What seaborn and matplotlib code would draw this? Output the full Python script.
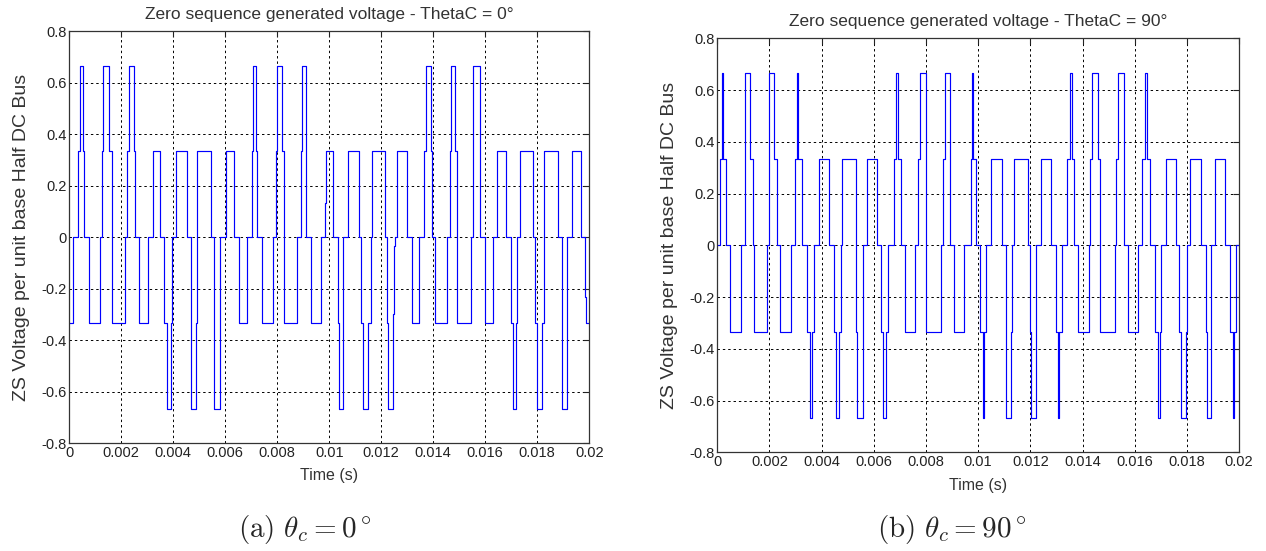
import numpy as np
import pandas as pd
import matplotlib
matplotlib.use("Agg")
import matplotlib.pyplot as plt
from matplotlib.ticker import FuncFormatter
import seaborn as sns

# switching instants (ms) and the level after each one, in units of Vdc/3
t_a = [0.0, 0.155, 0.348, 0.426, 0.516, 0.555, 0.748, 1.187, 1.252, 1.290,
       1.535, 1.626, 2.142, 2.219, 2.284, 2.477, 2.516, 2.535, 2.671, 3.032,
       3.226, 3.484, 3.652, 3.755, 3.897, 3.961, 4.116, 4.542, 4.671, 4.697,
       4.877, 4.900, 4.930, 5.445, 5.574, 5.806, 6.013, 6.323, 6.516, 6.852,
       7.019, 7.071, 7.200, 7.239, 7.406, 7.845, 7.961, 8.000, 8.168, 8.245,
       8.774, 8.903, 8.955, 9.123, 9.316, 9.690, 9.832, 9.858, 10.129, 10.348,
       10.387, 10.516, 10.542, 10.735, 11.135, 11.239, 11.290, 11.497, 11.600, 11.639,
       12.142, 12.206, 12.258, 12.439, 12.490, 12.516, 12.619, 13.006, 13.187, 13.471,
       13.652, 13.729, 13.897, 13.961, 14.065, 14.542, 14.645, 14.671, 14.852, 14.929,
       15.445, 15.535, 15.794, 16.000, 16.284, 16.465, 16.800, 16.981, 17.058, 17.187,
       17.239, 17.355, 17.845, 17.923, 17.987, 18.168, 18.245, 18.800, 18.942, 18.968,
       19.135, 19.329, 19.690, 19.845, 19.871, 20.0]
lvl_a = [-1, 0, 1, 2, 1, 0, -1, 0, 1, 2,
         1, -1, 0, 1, 2, 1, 0.4, 0, -1, 0,
         1, 0, -1, -2, -1, 0, 1, 0, -1, -2,
         -1, 0, 1, 0, -2, 0, 1, 0, -1, 0,
         1, 2, 1, 0, -1, 0, 1, 2, 1, -1,
         0, 1, 2, 0, -1, 0, 0.4, 1, 0, -1,
         -2, -1, 0, 1, 0, -1, -2, -1, 0, 1,
         0, -1, -2, -0.9, -0.1, 0, 1, 0, -1, 0,
         1, 2, 1, 0, -1, 0, 1, 2, 1, -1,
         0, 2, 0, -1, 0, 1, 0, -1, -2, -1,
         0, 1, 0, -1, -2, -1, 1, 0, -1, -2,
         0, 1, 0, -0.7, -1, -1]

t_b = [0.0, 0.103, 0.190, 0.230, 0.320, 0.474, 0.923, 1.077, 1.256, 1.372,
       1.410, 1.910, 2.000, 2.190, 2.270, 2.397, 2.808, 2.974, 3.051, 3.090,
       3.244, 3.423, 3.538, 3.628, 3.705, 3.885, 4.295, 4.460, 4.538, 4.654,
       4.730, 4.770, 5.300, 5.370, 5.592, 5.745, 6.140, 6.280, 6.370, 6.470,
       6.560, 6.764, 6.866, 6.943, 7.045, 7.210, 7.580, 7.707, 7.783, 7.987,
       8.010, 8.573, 8.650, 8.740, 8.930, 9.083, 9.465, 9.707, 9.770, 9.810,
       9.900, 10.064, 10.180, 10.230, 10.294, 10.510, 10.920, 11.060, 11.240, 11.315,
       11.390, 11.900, 11.980, 12.020, 12.210, 12.414, 12.780, 12.990, 13.050, 13.110,
       13.205, 13.420, 13.510, 13.600, 13.665, 13.845, 14.253, 14.300, 14.380, 14.610,
       14.675, 15.250, 15.300, 15.355, 15.595, 15.750, 16.127, 16.290, 16.390, 16.470,
       16.580, 16.760, 16.900, 16.960, 17.000, 17.200, 17.600, 17.710, 17.770, 17.975,
       18.010, 18.110, 18.557, 18.720, 18.760, 18.910, 19.060, 19.480, 19.670, 19.750,
       19.790, 19.870, 20.0]
lvl_b = [0, 1, 2, 1, 0, -1, 0, 2, 1, 0,
         -1, 0, 2, 1, 0, -1, 0, 1, 2, 1,
         0, -1, -2, -1, 0, 1, 0, -1, -2, -1,
         0, 1, -1, -2, 0, 1, 0, -1, -2, -1,
         0, 1, 2, 1, 0, -1, 0, 1, 2, 1,
         -1, 0, 1, 2, 0, -1, 0, 1, 2, 1,
         0, -1, -2, -1, 0, 1, 0, -2, -1, 0,
         1, 0, -1, -2, 0, 1, 0, -1, -2, -1,
         0, 1, 2, 1, 0, -1, 0, 1, 2, 1,
         -1, 0, 1, 2, 0, -1, 0, 1, 2, 1,
         0, -1, -2, -1, 0, 1, 0, -1, -2, -1,
         0, 1, 0, -1, -2, 0, 1, 0, -1, -2,
         -1, 0, 0]

titles = ["Zero sequence generated voltage - ThetaC = 0\u00b0",
          "Zero sequence generated voltage - ThetaC = 90\u00b0"]
captions = [r"$\mathrm{(a)}\ \theta_c = 0^\circ$",
            r"$\mathrm{(b)}\ \theta_c = 90^\circ$"]
x_ticks = [0, 0.002, 0.004, 0.006, 0.008, 0.01, 0.012, 0.014, 0.016, 0.018, 0.02]
y_ticks = [-0.8, -0.6, -0.4, -0.2, 0, 0.2, 0.4, 0.6, 0.8]

sns.set_style("white")
plt.rcParams['font.family'] = ['Liberation Sans', 'DejaVu Sans']
plt.rcParams['axes.unicode_minus'] = False
plt.rcParams['mathtext.fontset'] = 'cm'

fig = plt.figure(figsize=(12.66, 5.51), dpi=100)
ax_a = fig.add_axes([0.0547, 0.196, 0.4107, 0.747])
ax_b = fig.add_axes([0.5666, 0.1788, 0.4121, 0.7514])

fmt = FuncFormatter(lambda v, p: "%g" % round(v, 4))

for ax, t, lvl, title in [(ax_a, t_a, lvl_a, titles[0]),
                          (ax_b, t_b, lvl_b, titles[1])]:
    df = pd.DataFrame({'time': np.array(t) / 1000.0, 'zs': np.array(lvl) / 3.0})
    sns.lineplot(data=df, x='time', y='zs', ax=ax, estimator=None, sort=False,
                 drawstyle='steps-post', color='#0000ff', linewidth=0.85)
    ax.set_xlim(0, 0.02)
    ax.set_ylim(-0.8, 0.8)
    ax.set_xticks(x_ticks)
    ax.set_yticks(y_ticks)
    ax.xaxis.set_major_formatter(fmt)
    ax.yaxis.set_major_formatter(fmt)
    ax.grid(True, color='black', linestyle=(0, (2.5, 3)), linewidth=0.7)
    ax.tick_params(direction='in', length=4, width=0.8, labelsize=10.5,
                   top=True, right=True, pad=2, colors='#222222')
    for s in ax.spines.values():
        s.set_color('#333333')
        s.set_linewidth(0.9)
    ax.set_title(title, fontsize=12.5, color='#333333', pad=9)
    ax.set_xlabel('Time (s)', fontsize=11.5, color='#333333', labelpad=6)
    ax.set_ylabel('ZS Voltage per unit base Half DC Bus', fontsize=14,
                  color='#333333', labelpad=8)

fig.text(305 / 1266, 1 - 530 / 551, captions[0], fontsize=21, ha='center', va='center')
fig.text(952 / 1266, 1 - 530 / 551, captions[1], fontsize=21, ha='center', va='center')

fig.savefig('out.png', dpi=100)
